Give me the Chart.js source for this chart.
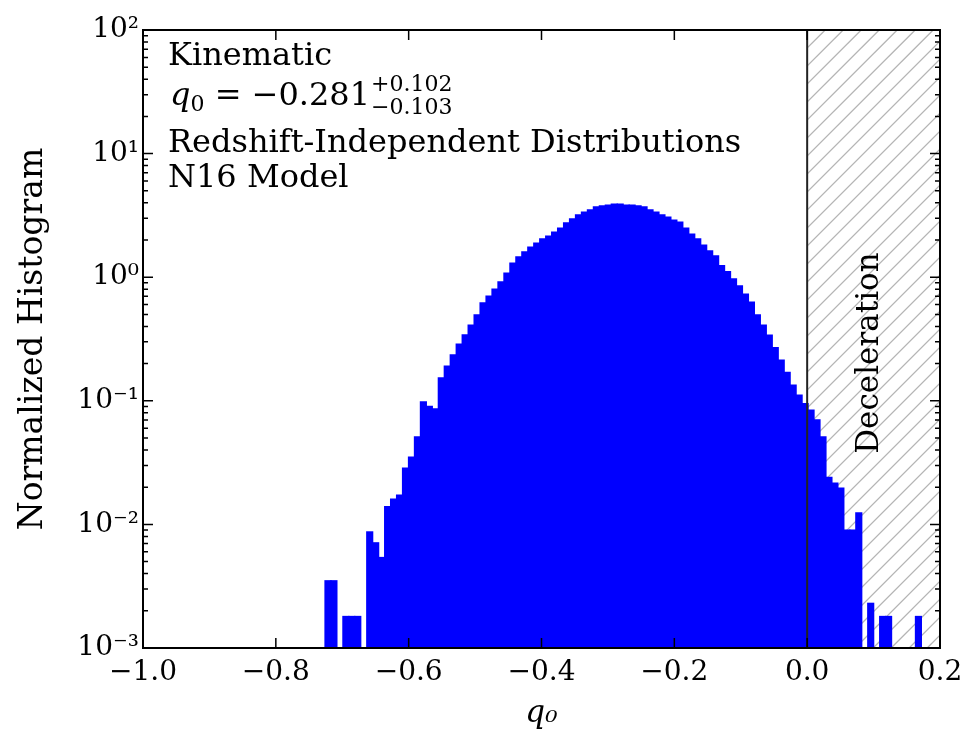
<!DOCTYPE html>
<html>
<head>
<meta charset="utf-8">
<script src="https://cdn.jsdelivr.net/npm/chart.js@4.4.1/dist/chart.umd.min.js"></script>
<style>
html, body { margin: 0; padding: 0; background: #fff; }
</style>
</head>
<body>
<canvas id="myChart" width="962" height="739"></canvas>
<script>
// histogram bins (q0)
const binStart = -0.726;
const binWidth = 0.00898;
// normalized histogram heights, one per bin (null = empty bin)
const histValues = [
  0.0035, 0.0035, null, 0.0018, 0.0018, 0.0018, null, 0.0087, 0.0071, 0.0054,
  0.0139, 0.016, 0.0173, 0.0286, 0.035, 0.051, 0.098, 0.090, 0.086, 0.153,
  0.191, 0.235, 0.288, 0.341, 0.410, 0.495, 0.619, 0.704, 0.803, 0.915,
  1.08, 1.30, 1.46, 1.60, 1.75, 1.89, 2.04, 2.15, 2.32, 2.50,
  2.75, 2.96, 3.19, 3.37, 3.50, 3.70, 3.77, 3.84, 3.91, 3.91,
  3.84, 3.84, 3.77, 3.70, 3.50, 3.37, 3.19, 3.07, 2.90, 2.79,
  2.50, 2.23, 2.04, 1.82, 1.63, 1.49, 1.24, 1.11, 0.97, 0.85,
  0.73, 0.63, 0.495, 0.41, 0.34, 0.27, 0.213, 0.17, 0.134, 0.111,
  0.095, 0.084, 0.070, 0.051, 0.024, 0.0216, 0.0197, 0.009, 0.009, 0.0124,
  null, 0.0023, null, 0.0018, 0.0018, null, null, null, null, 0.0018
];
const xTicks = [-1.0, -0.8, -0.6, -0.4, -0.2, 0.0, 0.2];
const yTicks = [0.001, 0.01, 0.1, 1, 10, 100];
const decelStart = 0.0;
const decelEnd = 0.2;

const serif = "'DejaVu Serif', serif";
const sup = {'-': '\u207B', '0': '\u2070', '1': '\u00B9', '2': '\u00B2', '3': '\u00B3'};

const points = histValues.map((v, i) => ({ x: binStart + binWidth * (i + 0.5), y: v }));

// hatch, frame, inner ticks and text
const decor = {
  id: 'decor',
  beforeDatasetsDraw(chart) {
    const { ctx, chartArea: a, scales: { x } } = chart;
    const x0 = x.getPixelForValue(decelStart);
    const x1 = x.getPixelForValue(decelEnd);
    ctx.save();
    ctx.beginPath();
    ctx.rect(x0, a.top, x1 - x0, a.bottom - a.top);
    ctx.clip();
    ctx.strokeStyle = '#b4b4b4';
    ctx.lineWidth = 1.3;
    const h = a.bottom - a.top;
    for (let s = x0 - h; s < x1 + 20; s += 18) {
      ctx.beginPath();
      ctx.moveTo(s, a.bottom);
      ctx.lineTo(s + h, a.top);
      ctx.stroke();
    }
    ctx.restore();
  },
  afterDatasetsDraw(chart) {
    const { ctx, chartArea: a, scales: { x, y } } = chart;
    ctx.save();
    // line at q0 = 0
    const xz = x.getPixelForValue(decelStart);
    ctx.strokeStyle = '#222';
    ctx.lineWidth = 2;
    ctx.beginPath();
    ctx.moveTo(xz, a.top);
    ctx.lineTo(xz, a.bottom);
    ctx.stroke();

    // frame
    ctx.strokeStyle = '#000';
    ctx.lineWidth = 2;
    ctx.strokeRect(a.left, a.top, a.right - a.left, a.bottom - a.top);

    // inner ticks
    ctx.lineWidth = 1.5;
    ctx.beginPath();
    x.ticks.forEach(t => {
      const px = x.getPixelForValue(t.value);
      ctx.moveTo(px, a.bottom); ctx.lineTo(px, a.bottom - 10);
      ctx.moveTo(px, a.top); ctx.lineTo(px, a.top + 10);
    });
    for (let e = -3; e <= 2; e++) {
      for (let m = 1; m <= 9; m++) {
        const v = m * Math.pow(10, e);
        if (v < y.min || v > y.max) continue;
        const py = y.getPixelForValue(v);
        const len = m === 1 ? 10 : 5;
        ctx.moveTo(a.left, py); ctx.lineTo(a.left + len, py);
        ctx.moveTo(a.right, py); ctx.lineTo(a.right - len, py);
      }
    }
    ctx.stroke();

    // labels inside the plot
    ctx.fillStyle = '#000';
    ctx.textBaseline = 'alphabetic';
    ctx.textAlign = 'left';
    ctx.font = '32px ' + serif;
    ctx.fillText('Kinematic', 168, 65);
    ctx.fillText('Redshift-Independent Distributions', 168, 152);
    ctx.fillText('N16 Model', 168, 187);

    let cx = 170;
    ctx.font = 'italic 32px ' + serif;
    ctx.fillText('q', cx, 105);
    cx += ctx.measureText('q').width;
    ctx.font = '22px ' + serif;
    ctx.fillText('0', cx, 111);
    cx += ctx.measureText('0').width;
    ctx.font = '32px ' + serif;
    const main = ' = \u22120.281';
    ctx.fillText(main, cx, 105);
    cx += ctx.measureText(main).width + 1;
    ctx.font = '22px ' + serif;
    ctx.fillText('+0.102', cx, 91);
    ctx.fillText('\u22120.103', cx, 114);

    // Deceleration
    ctx.font = '31px ' + serif;
    ctx.translate(x.getPixelForValue(0.095), 353);
    ctx.rotate(-Math.PI / 2);
    ctx.textAlign = 'center';
    ctx.textBaseline = 'middle';
    ctx.fillText('Deceleration', 0, 0);
    ctx.restore();
  }
};

new Chart(document.getElementById('myChart'), {
  type: 'bar',
  data: {
    datasets: [{
      data: points,
      backgroundColor: '#0000ff',
      borderWidth: 0,
      inflateAmount: 0.6,
      barPercentage: 1,
      categoryPercentage: 1
    }]
  },
  options: {
    responsive: false,
    animation: false,
    layout: { padding: { left: 0, top: 30, right: 22, bottom: 0 } },
    plugins: { legend: { display: false }, tooltip: { enabled: false } },
    scales: {
      x: {
        type: 'linear',
        min: -1.0,
        max: 0.2,
        offset: false,
        grid: { display: false, drawTicks: false },
        border: { display: false },
        afterBuildTicks: (s) => { s.ticks = xTicks.map(v => ({ value: v })); },
        afterFit: (s) => { s.height = 91; s.paddingRight = 0; s.paddingLeft = 0; },
        ticks: {
          autoSkip: false,
          maxRotation: 0,
          padding: 8,
          color: '#000',
          font: { family: serif, size: 28 },
          callback: (v) => Number(v).toFixed(1).replace('-', '\u2212')
        },
        title: {
          display: true,
          text: 'q\u2080',
          color: '#000',
          font: { family: serif, size: 31, style: 'italic' },
          padding: { top: 0, bottom: 6 }
        }
      },
      y: {
        type: 'logarithmic',
        min: 0.001,
        max: 100,
        grid: { display: false, drawTicks: false },
        border: { display: false },
        afterBuildTicks: (s) => { s.ticks = yTicks.map(v => ({ value: v })); },
        afterFit: (s) => { s.width = 143; s.paddingTop = 0; s.paddingBottom = 0; },
        ticks: {
          autoSkip: false,
          padding: 4,
          color: '#000',
          font: { family: serif, size: 28 },
          callback: (v) => {
            const e = String(Math.round(Math.log10(v)));
            return '10' + e.split('').map(c => sup[c]).join('');
          }
        },
        title: {
          display: true,
          text: 'Normalized Histogram',
          color: '#000',
          font: { family: serif, size: 33 },
          padding: { top: 14, bottom: 0 }
        }
      }
    }
  },
  plugins: [decor]
});
</script>
</body>
</html>
